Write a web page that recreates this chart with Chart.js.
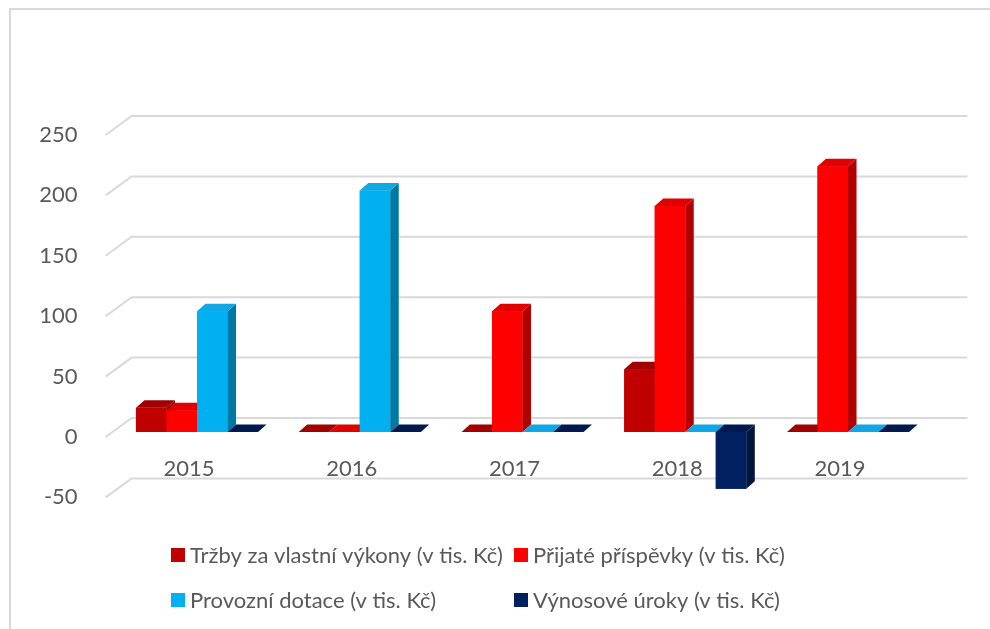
<!DOCTYPE html>
<html>
<head>
<meta charset="utf-8">
<script src="https://cdn.jsdelivr.net/npm/chart.js@4.4.0/dist/chart.umd.min.js"></script>
<style>
  body { margin: 0; background: #fff; overflow: hidden; }
  #wrap { position: relative; width: 990px; height: 629px; }
  #frame { position: absolute; left: 9px; top: 8px; width: 1100px; height: 700px; border: 2px solid #d9d9d9; box-sizing: border-box; }
  canvas { position: absolute; left: 0; top: 0; }
</style>
</head>
<body>
<div id="wrap">
  <div id="frame"></div>
  <canvas id="chart" width="990" height="629"></canvas>
</div>
<script>
// Data
const years = ['2015', '2016', '2017', '2018', '2019'];
const seriesNames = [
  'Tržby za vlastní výkony (v tis. Kč)',
  'Přijaté příspěvky (v tis. Kč)',
  'Provozní dotace (v tis. Kč)',
  'Výnosové úroky (v tis. Kč)'
];
const trzby = [20, 0, 0, 52, 0];
const prispevky = [18, 0, 100, 187, 220];
const dotace = [100, 200, 0, 0, 0];
const uroky = [0, 0, 0, -47, 0];
const yTicks = [-50, 0, 50, 100, 150, 200, 250];

// Colours: front face, top face, side face
const frontColors = ['#c00000', '#ff0000', '#00b0f0', '#002060'];
const topColors = ['#a00000', '#e00000', '#10a8e4', '#001a50'];
const sideColors = ['#880000', '#b00000', '#0078a4', '#001540'];

const textColor = '#595959';
const fontFamily = 'Lato, "Open Sans", sans-serif';

// depth of each bar (x, y)
const DEPTH_X = 8.5;
const DEPTH_Y = 7.5;

// Back wall gridlines with the short diagonal on the left
const grid3d = {
  id: 'grid3d',
  beforeDatasetsDraw(chart) {
    const { ctx, chartArea, scales: { y } } = chart;
    ctx.save();
    ctx.strokeStyle = '#d9d9d9';
    ctx.lineWidth = 2;
    yTicks.forEach(v => {
      const py = y.getPixelForValue(v);
      ctx.beginPath();
      ctx.moveTo(chartArea.left - 10, py + 5);
      ctx.lineTo(chartArea.left + 16, py - 14);
      ctx.lineTo(chartArea.right + 38, py - 14);
      ctx.stroke();
    });
    ctx.restore();
  }
};

// Redraw the columns left to right with their top and side faces,
// so each column hides the side of the one before it
const bars3d = {
  id: 'bars3d',
  afterDatasetsDraw(chart) {
    const ctx = chart.ctx;
    ctx.save();
    chart.data.datasets.forEach((ds, i) => {
      const meta = chart.getDatasetMeta(i);
      meta.data.forEach(bar => {
        bar.draw(ctx, chart.chartArea);

        const { x, y, base, width } = bar.getProps(['x', 'y', 'base', 'width'], true);
        const left = x - width / 2;
        const right = x + width / 2;
        const top = Math.min(y, base);
        const bottom = Math.max(y, base);

        // side
        ctx.fillStyle = sideColors[i];
        ctx.beginPath();
        ctx.moveTo(right, top);
        ctx.lineTo(right + DEPTH_X, top - DEPTH_Y);
        ctx.lineTo(right + DEPTH_X, bottom - DEPTH_Y);
        ctx.lineTo(right, bottom);
        ctx.closePath();
        ctx.fill();

        // top
        ctx.fillStyle = topColors[i];
        ctx.beginPath();
        ctx.moveTo(left, top);
        ctx.lineTo(left + DEPTH_X, top - DEPTH_Y);
        ctx.lineTo(right + DEPTH_X, top - DEPTH_Y);
        ctx.lineTo(right, top);
        ctx.closePath();
        ctx.fill();
      });
    });
    ctx.restore();
  }
};

// Legend in two aligned columns, like the original
const legendCols = [171, 514];
const legendRows = [555, 600];
const gridLegend = {
  id: 'gridLegend',
  afterDraw(chart) {
    const ctx = chart.ctx;
    ctx.save();
    ctx.font = '22px ' + fontFamily;
    ctx.textBaseline = 'middle';
    chart.data.datasets.forEach((ds, i) => {
      const lx = legendCols[i % 2];
      const ly = legendRows[Math.floor(i / 2)];
      ctx.fillStyle = ds.backgroundColor;
      ctx.fillRect(lx, ly - 7, 14, 14);
      ctx.fillStyle = textColor;
      ctx.fillText(ds.label, lx + 19, ly + 1);
    });
    ctx.restore();
  }
};

const allValues = [trzby, prispevky, dotace, uroky];

const ctx = document.getElementById('chart').getContext('2d');
const chart = new Chart(ctx, {
  type: 'bar',
  data: {
    labels: years,
    datasets: allValues.map((vals, i) => ({
      label: seriesNames[i],
      data: vals,
      backgroundColor: frontColors[i],
      borderWidth: 0
    }))
  },
  options: {
    responsive: false,
    animation: false,
    layout: {
      padding: { left: 15.6, top: 130, right: 60.6, bottom: 136.6 }
    },
    datasets: {
      bar: { barPercentage: 1, categoryPercentage: 0.75 }
    },
    scales: {
      x: {
        position: { y: 0 },
        grid: { display: false },
        border: { display: false },
        ticks: {
          color: textColor,
          font: { family: fontFamily, size: 22 },
          padding: 16,
          labelOffset: -8
        }
      },
      y: {
        min: -50,
        max: 250,
        grid: { display: false },
        border: { display: false },
        ticks: {
          stepSize: 50,
          color: textColor,
          font: { family: fontFamily, size: 22 },
          padding: 30,
          labelOffset: 5
        },
        afterFit(scale) {
          scale.width = 100;
        }
      }
    },
    plugins: {
      legend: { display: false },
      tooltip: { enabled: false }
    }
  },
  plugins: [grid3d, bars3d, gridLegend]
});
</script>
</body>
</html>
